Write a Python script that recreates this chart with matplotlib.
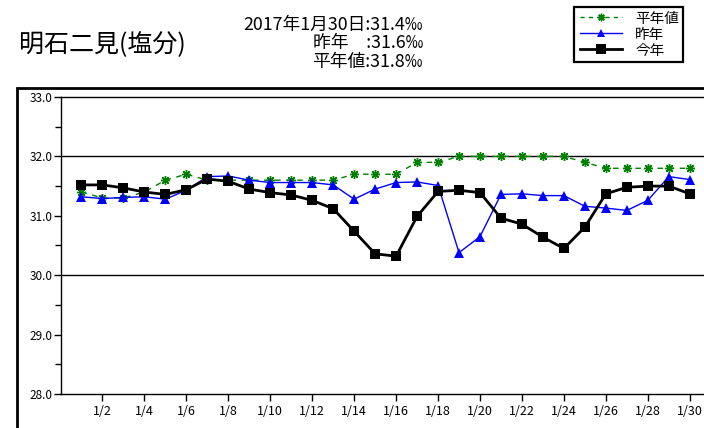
import matplotlib
matplotlib.use("Agg")
import matplotlib.pyplot as plt
from matplotlib.patches import Rectangle
from matplotlib.lines import Line2D
from matplotlib.ticker import MultipleLocator

plt.rcParams['font.family'] = ['Noto Sans CJK JP', 'DejaVu Sans']

days = list(range(1, 31))
this_year = [31.52, 31.52, 31.47, 31.40, 31.36, 31.44, 31.62, 31.58, 31.45, 31.39,
             31.35, 31.26, 31.12, 30.74, 30.36, 30.32, 30.99, 31.41, 31.43, 31.39,
             30.96, 30.86, 30.64, 30.45, 30.81, 31.37, 31.48, 31.50, 31.50, 31.37]
last_year = [31.32, 31.29, 31.31, 31.32, 31.28, 31.43, 31.66, 31.67, 31.60, 31.56,
             31.56, 31.56, 31.52, 31.28, 31.45, 31.56, 31.57, 31.51, 30.38, 30.65,
             31.36, 31.37, 31.34, 31.34, 31.16, 31.13, 31.09, 31.26, 31.66, 31.61]
normal = [31.4, 31.3, 31.3, 31.4, 31.6, 31.7, 31.6, 31.6, 31.6, 31.6,
          31.6, 31.6, 31.6, 31.7, 31.7, 31.7, 31.9, 31.9, 32.0, 32.0,
          32.0, 32.0, 32.0, 32.0, 31.9, 31.8, 31.8, 31.8, 31.8, 31.8]
xtick_days = list(range(2, 31, 2))
xtick_labels = [f"1/{d}" for d in xtick_days]
title = "明石二見(塩分)"
header = ["2017年1月30日:31.4‰", "昨年　:31.6‰", "平年値:31.8‰"]
legend_labels = ["平年値", "昨年", "今年"]

W, H = 704, 428
fig = plt.figure(figsize=(W / 100, H / 100), dpi=100)
fig.patch.set_facecolor("white")

left = 60.5 / W
bottom = 1 - 394 / H
top = 1 - 97 / H
width = (31 * 20.975) / W
ax = fig.add_axes([left, bottom, width, top - bottom])

styles = [
    dict(color="#008000", lw=1, ls=(0, (4, 4)), marker=(8, 2, 0), markersize=6.5,
         markeredgewidth=1.0, zorder=2),
    dict(color="#0000ff", lw=1, ls="-", marker="^", markersize=6.5,
         markeredgewidth=0, zorder=3),
    dict(color="black", lw=2.0, ls="-", marker="s", markersize=7,
         markeredgewidth=0, zorder=4),
]
for series, st in zip([normal, last_year, this_year], styles):
    ax.plot(days, series, **st)

ax.set_xlim(0, 31)
ax.set_ylim(28, 33)
ax.yaxis.set_major_locator(MultipleLocator(1))
ax.yaxis.set_minor_locator(MultipleLocator(0.5))
ax.yaxis.set_major_formatter(plt.FuncFormatter(lambda v, p: f"{v:.1f}"))
ax.set_xticks(xtick_days)
ax.set_xticklabels(xtick_labels)
for yv in (30, 32):
    ax.axhline(yv, color="black", lw=1, zorder=1)
ax.tick_params(axis="y", which="major", length=5, width=1, labelsize=8.5, pad=1)
ax.tick_params(axis="y", which="minor", length=4, width=1)
ax.tick_params(axis="x", which="major", length=5, width=1, labelsize=9, pad=3)
for s in ax.spines.values():
    s.set_linewidth(1)

# Outer frame
fig.patches.append(Rectangle((17 / W, -0.1), 1.2, (H - 88) / H + 0.1, fill=False,
                             lw=2, edgecolor="black", transform=fig.transFigure,
                             zorder=0))

fig.text(19 / W, 1 - 45 / H, title, fontsize=18, ha="left", va="center")
for i, line in enumerate(header):
    fig.text(423 / W, 1 - (25 + i * 18.3) / H, line, fontsize=12.8, ha="right",
             va="center")

# Legend (drawn manually)
fig.patches.append(Rectangle((574 / W, 1 - 62 / H), 109 / W, 55 / H, fill=True,
                             facecolor="white", lw=1.6, edgecolor="black",
                             transform=fig.transFigure, zorder=5))
leg_styles = [
    dict(color="#008000", lw=1, ls=(0, (3, 3)), marker=(8, 2, 0), markersize=5.5,
         markeredgewidth=1.0),
    dict(color="#0000ff", lw=1, ls="-", marker="^", markersize=6,
         markeredgewidth=0),
    dict(color="black", lw=2.0, ls="-", marker="s", markersize=7,
         markeredgewidth=0),
]
for i, (lab, st) in enumerate(zip(legend_labels, leg_styles)):
    yc = 1 - (17 + i * 16) / H
    ln = Line2D([580 / W, 622 / W], [yc, yc], transform=fig.transFigure,
                markevery=[], zorder=6, **st)
    fig.add_artist(ln)
    mk = Line2D([601 / W], [yc], transform=fig.transFigure, ls="none",
                zorder=7, **{k: v for k, v in st.items() if k not in ("ls", "lw")})
    fig.add_artist(mk)
    fig.text(635 / W, yc - 2 / H, lab, fontsize=10.5, ha="left", va="center",
             zorder=7)

fig.savefig("out.png", dpi=100)
